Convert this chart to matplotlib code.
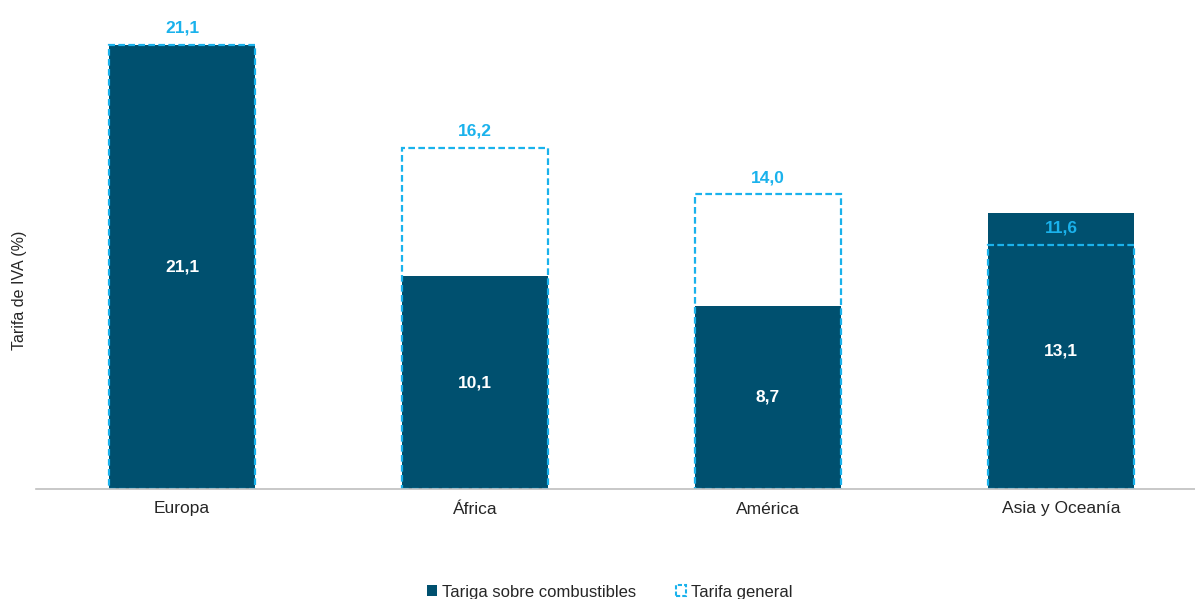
import matplotlib.pyplot as plt
from matplotlib.patches import Patch

plt.rcParams['font.family'] = ['Liberation Sans', 'DejaVu Sans']

regiones = ["Europa", "África", "América", "Asia y Oceanía"]
tarifa_combustibles = [21.1, 10.1, 8.7, 13.1]
tarifa_general = [21.1, 16.2, 14.0, 11.6]

oscuro = "#00506F"
celeste = "#1AB2EC"

fig = plt.figure(figsize=(11.95, 5.99), dpi=100)
# pixel layout: baseline at y=489, bars spaced 293 px
ax = fig.add_axes([35.5 / 1195, 110 / 599, 1172 / 1195, 489 / 599])

x = range(len(regiones))
ax.bar(x, tarifa_combustibles, width=0.5, color=oscuro, zorder=1)
ax.bar(x, tarifa_general, width=0.5, facecolor="none", edgecolor=celeste,
       linestyle=(0, (3, 1.5)), linewidth=1.6, zorder=2)

for i, (c, g) in enumerate(zip(tarifa_combustibles, tarifa_general)):
    ax.text(i, c / 2, f"{c:.1f}".replace(".", ","), color="white",
            fontsize=12.5, fontweight="bold", ha="center", va="center", zorder=3)
    ax.annotate(f"{g:.1f}".replace(".", ","), (i, g), xytext=(0, 12),
                textcoords="offset points", color=celeste, fontsize=12.5,
                fontweight="bold", ha="center", va="center", zorder=3)

ax.set_xlim(-0.5, 3.5)
ax.set_ylim(0, 489 / (444 / 21.1))
ax.set_xticks(list(x))
ax.set_xticklabels(regiones, fontsize=12.5, color="#262626")
ax.tick_params(axis="x", length=0, pad=9)
ax.set_yticks([])
for s in ["top", "right", "left"]:
    ax.spines[s].set_visible(False)
ax.spines["bottom"].set_color("#BFBFBF")
ax.spines["bottom"].set_linewidth(1.2)

fig.text(20 / 1195, 1 - 290 / 599, "Tarifa de IVA (%)", rotation=90,
         fontsize=11.5, ha="center", va="center", color="#262626")

handles = [
    Patch(facecolor=oscuro, edgecolor="none", label="Tariga sobre combustibles"),
    Patch(facecolor="none", edgecolor=celeste, linestyle=(0, (2, 1)),
          linewidth=1.5, label="Tarifa general"),
]
fig.legend(handles=handles, loc="center", bbox_to_anchor=(610 / 1195, 1 - 592 / 599),
           ncol=2, frameon=False, fontsize=12, handlelength=0.6, handleheight=0.6,
           handletextpad=0.3, columnspacing=2.4, labelcolor="#262626")

fig.savefig("out.png", dpi=100)
